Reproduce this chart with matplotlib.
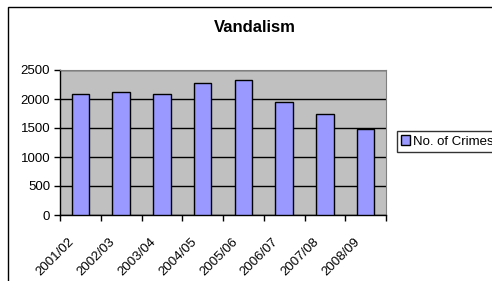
import numpy as np
import matplotlib.pyplot as plt
from matplotlib.patches import Rectangle
from matplotlib.transforms import ScaledTranslation

plt.rcParams['font.family'] = ['Liberation Sans', 'DejaVu Sans']

years = ['2001/02', '2002/03', '2003/04', '2004/05', '2005/06', '2006/07', '2007/08', '2008/09']
crimes = [2083, 2123, 2086, 2283, 2320, 1950, 1740, 1490]

fig = plt.figure(figsize=(4.92, 2.81), dpi=100)
ax = fig.add_axes([60/492, 1 - 215/281, 326/492, 145/281])

x = np.arange(len(years))
ax.bar(x, crimes, width=0.43, color='#9999FF', edgecolor='black', linewidth=1.0,
       label='No. of Crimes', zorder=3)

ax.set_facecolor('#C0C0C0')
ax.set_xlim(-0.5, len(years) - 0.5)
ax.set_ylim(0, 2500)
ax.set_yticks([0, 500, 1000, 1500, 2000, 2500])
ax.yaxis.grid(True, color='black', linewidth=1.0, zorder=1)
ax.set_axisbelow(True)

# category ticks on boundaries, labels at centres
ax.set_xticks(np.arange(len(years) + 1) - 0.5)
ax.set_xticklabels([])
ax.set_xticks(x, minor=True)
ax.set_xticklabels(years, minor=True, rotation=45, ha='right', rotation_mode='anchor', fontsize=9.5)
ax.tick_params(axis='x', which='minor', length=0, pad=4)
ax.tick_params(axis='x', which='major', length=4, width=1, direction='out')
ax.tick_params(axis='y', length=4, width=1, direction='out', labelsize=9.5, pad=3)

shift = ScaledTranslation(-12/100, -15/100, fig.dpi_scale_trans)
for lab in ax.get_xticklabels(minor=True):
    lab.set_transform(lab.get_transform() + shift)

for s in ['left', 'bottom']:
    ax.spines[s].set_color('black')
    ax.spines[s].set_linewidth(1.0)
ax.spines['top'].set_color('#808080')
ax.spines['right'].set_color('#808080')

fig.text(255/492, 1 - 27.5/281, 'Vandalism', ha='center', va='center',
         fontsize=12, fontweight='bold')

leg = fig.legend(loc='center left', bbox_to_anchor=(397/492, 1 - 141.5/281),
                 fontsize=9.5, frameon=True, fancybox=False, borderaxespad=0,
                 handlelength=0.7, handleheight=0.7, handletextpad=0.25,
                 borderpad=0.3)
leg.get_frame().set_edgecolor('black')
leg.get_frame().set_linewidth(1.0)

# outer chart frame
fig.patches.append(Rectangle((8/492, -0.1), 1.2, 1 - 7/281 + 0.1,
                             transform=fig.transFigure, fill=False,
                             edgecolor='black', linewidth=1.0))

fig.savefig('out.png', dpi=100)
